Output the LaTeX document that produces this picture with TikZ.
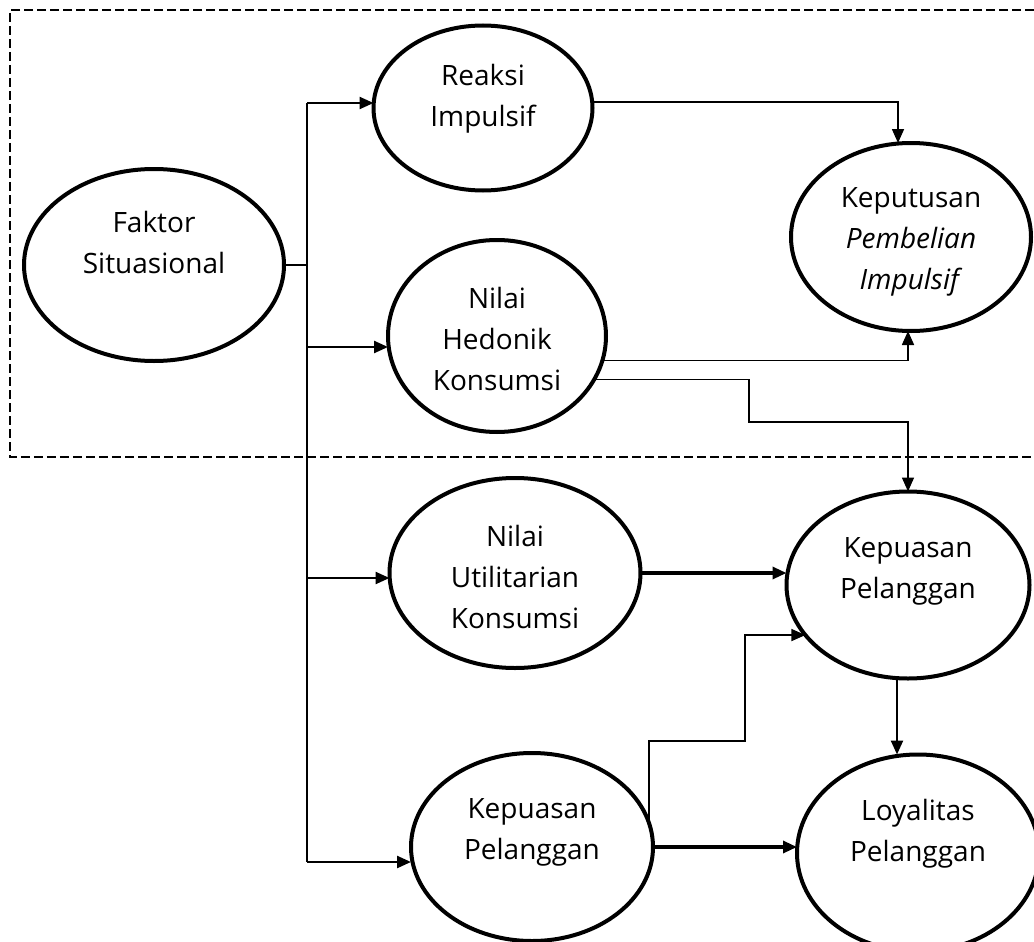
\documentclass[tikz,border=0pt]{standalone}
\usepackage{fontspec}
\setmainfont{Open Sans}
\usetikzlibrary{arrows.meta,shapes.geometric}
\begin{document}
\begin{tikzpicture}[x=1pt,y=-1pt,
  ell/.style={draw, ellipse, line width=4pt, inner sep=0pt, outer sep=0pt},
  lbl/.style={align=center, font=\fontsize{28}{41}\selectfont, inner sep=0pt},
  tip/.style={-{Triangle[length=14pt,width=12pt]}},
  thinln/.style={line width=1.6pt},
  midln/.style={line width=2.4pt},
  thickln/.style={line width=3.2pt},
  dashbox/.style={line width=2.5pt, dash pattern=on 9pt off 4pt}]
\useasboundingbox (0,0) rectangle (1034,942);
\clip (0,0) rectangle (1034,942);
% dashed frame
\draw[dashbox] (1060,10) -- (10,10) -- (10,457) -- (1060,457);
% ellipses
\node[ell, minimum width=260pt, minimum height=192pt] (fs) at (154,265) {};
\node[ell, minimum width=219pt, minimum height=165pt] (ri) at (483,108) {};
\node[ell, minimum width=218pt, minimum height=192pt] (nh) at (497,336) {};
\node[ell, minimum width=240pt, minimum height=188pt] (kpi) at (911,237) {};
\node[ell, minimum width=251pt, minimum height=190pt] (nu) at (515,573) {};
\node[ell, minimum width=243pt, minimum height=187pt] (kp1) at (908,585) {};
\node[ell, minimum width=242pt, minimum height=188pt] (kp2) at (532,847) {};
\node[ell, minimum width=242pt, minimum height=197pt] (lp) at (918,853) {};
% labels
\node[lbl] (tfs) at (154,242) {Faktor\\Situasional};
\node[lbl] (tri) at (483,99) {Reaksi\\Impulsif};
\node[lbl] (tnh) at (497,339) {Nilai\\Hedonik\\Konsumsi};
\node[lbl] (tkpi) at (911,242) {Keputusan\\\textit{Pembelian}\\\textit{Impulsif}};
\node[lbl] (tnu) at (515,577) {Nilai\\Utilitarian\\Konsumsi};
\node[lbl] (tkp1) at (908,571) {Kepuasan\\Pelanggan};
\node[lbl] (tkp2) at (532,832) {Kepuasan\\Pelanggan};
\node[lbl] (tlp) at (918,834) {Loyalitas\\Pelanggan};
% trunk
\coordinate (trTop) at (307,103);
\coordinate (trJ) at (307,265);
\coordinate (trH) at (307,347);
\coordinate (trU) at (307,578);
\coordinate (trBot) at (307,862);
\draw[thinln] (fs.east) -- (trJ);
\draw[line width=1.8pt] (trTop) -- (trBot);
\draw[midln,tip] (trTop) -- (trTop -| ri.west);
\draw[midln,tip] (trH) -- (trH -| nh.west);
\draw[midln,tip] (trU) -- (trU -| nu.west);
\draw[midln,tip] (trBot) -- (trBot -| kp2.west);
% upper connectors
\draw[thinln,tip] ([yshift=6pt]ri.east) -| ([xshift=-13pt]kpi.north);
\draw[thinln,tip] (nh.-13) -| ([xshift=-3pt]kpi.south);
\coordinate (h1) at (749,422);
\draw[thinln,tip] (nh.-24) -| (h1) -| (kp1.north);
% lower connectors
\draw[thickln,tip] (nu.east) -- (nu.east -| kp1.west);
\coordinate (b1) at (745,741);
\draw[thinln,tip] (kp2.12) |- (b1) |- (kp1.206);
\draw[thickln,tip] (kp2.east) -- (kp2.east -| lp.west);
\draw[midln,tip] ([xshift=-11pt]kp1.south) -- ([xshift=-11pt]kp1.south |- lp.north);
\end{tikzpicture}
\end{document}
